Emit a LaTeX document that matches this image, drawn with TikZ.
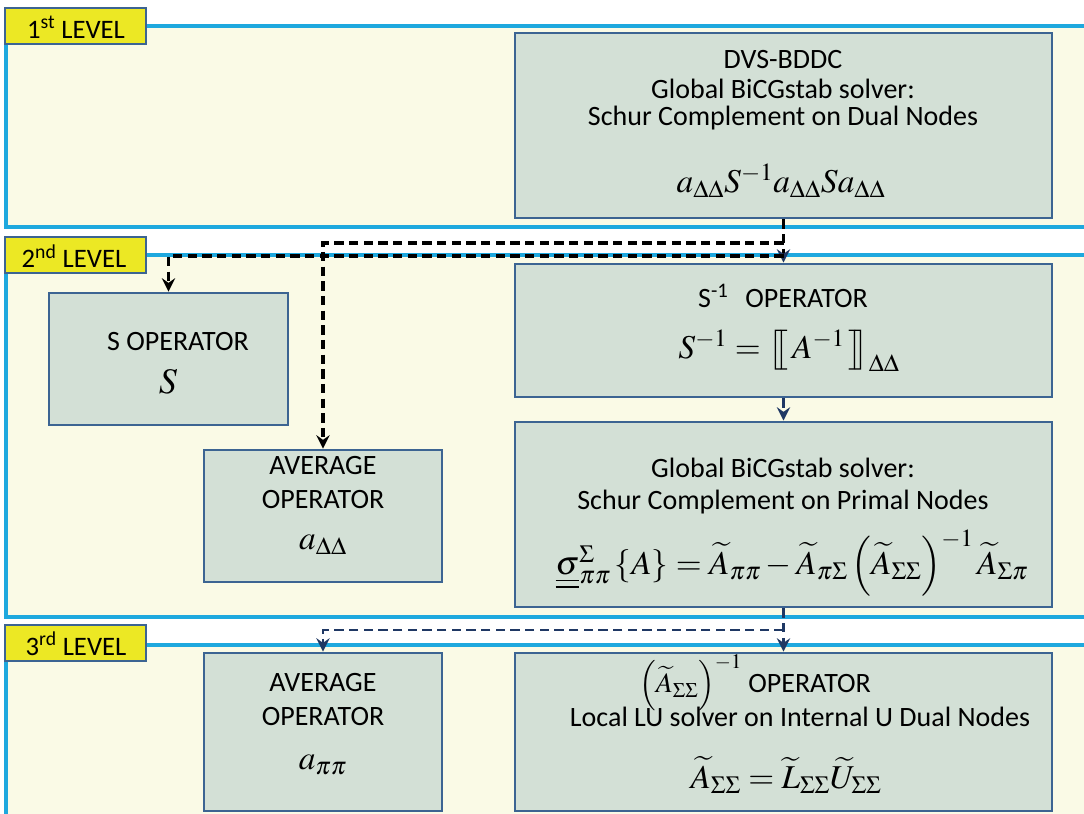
\documentclass[tikz,border=0pt]{standalone}
\usepackage{mathptmx}
\usepackage[no-math]{fontspec}
\setmainfont{Carlito}
\usetikzlibrary{arrows.meta,fit}
\definecolor{cream}{RGB}{250,250,230}
\definecolor{panelblue}{RGB}{30,168,222}
\definecolor{boxfill}{RGB}{211,224,214}
\definecolor{boxline}{RGB}{60,100,146}
\definecolor{labelyellow}{RGB}{236,232,36}
\definecolor{navy}{RGB}{31,56,100}
\tikzset{
  opbox/.style={draw=boxline, fill=boxfill, line width=2.2pt, inner sep=0pt, rectangle},
  lvl/.style={draw=boxline, fill=labelyellow, line width=2.2pt, inner sep=0pt, rectangle},
  lvltxt/.style={font=\fontsize{20}{22}\selectfont, inner sep=0pt},
  txt/.style={font=\fontsize{21}{24}\selectfont, inner sep=0pt},
  mth/.style={inner sep=0pt},
  panelline/.style={panelblue, line width=2.3pt},
  dashblk/.style={black, line width=2.5pt, dash pattern=on 7pt off 4pt},
  dashnavy/.style={navy, line width=2.2pt, dash pattern=on 7pt off 4pt},
  navytip/.style={-{Stealth[color=navy, length=10pt, width=10pt, inset=3.5pt]}},
  blacktip/.style={-{Stealth[color=black, length=10pt, width=10pt, inset=3.5pt]}}
}
\begin{document}
\begin{tikzpicture}[x=0.75pt, y=-0.75pt]
\useasboundingbox (0,0) rectangle (1084,813);
\clip (0,0) rectangle (1084,813);
\fill[white] (0,0) rectangle (1084,813);
% panels
\fill[cream] (6,26) rectangle (1100,227);
\draw[panelline] (1100,26) -- (6,26) -- (6,227) -- (1100,227);
\fill[cream] (6,255) rectangle (1100,617);
\draw[panelline] (1100,255) -- (6,255) -- (6,617) -- (1100,617);
\fill[cream] (6,645) rectangle (1100,840);
\draw[panelline] (1100,645) -- (6,645) -- (6,840);
% boxes
\node[opbox, fit={(515,33) (1052,218)}] (dvs) {};
\node[opbox, fit={(49,293) (288,425)}] (sop) {};
\node[opbox, fit={(204,450) (442,582)}] (avgD) {};
\node[opbox, fit={(515,264) (1052,397)}] (sinv) {};
\node[opbox, fit={(515,422) (1052,607)}] (prim) {};
\node[opbox, fit={(204,653) (442,811)}] (avgP) {};
\node[opbox, fit={(515,653) (1052,811)}] (atil) {};
% level labels
\node[lvl, fit={(5,8) (146,44)}] (l1) {};
\node[lvltxt] (l1t) at (76,27) {1\textsuperscript{st} LEVEL};
\node[lvl, fit={(5,237) (146,273)}] (l2) {};
\node[lvltxt] (l2t) at (74,256) {2\textsuperscript{nd} LEVEL};
\node[lvl, fit={(5,625) (146,661)}] (l3) {};
\node[lvltxt] (l3t) at (76,644) {3\textsuperscript{rd} LEVEL};
% texts level 1
\node[txt] (t1a) at (783,60) {DVS-BDDC};
\node[txt] (t1b) at (783,89) {Global BiCGstab solver:};
\node[txt] (t1c) at (783,118) {Schur Complement on Dual Nodes};
\node[mth, font=\fontsize{25}{28}\selectfont] (f1) at (781,181) {$a_{\Delta\Delta}S^{-1}a_{\Delta\Delta}Sa_{\Delta\Delta}$};
% texts level 2
\node[txt] (t2a) at (178,342) {S OPERATOR};
\node[mth, font=\fontsize{27}{30}\selectfont] (f2a) at (168,382) {$S$};
\node[txt] (t2b) at (323,466) {AVERAGE};
\node[txt] (t2c) at (323,500) {OPERATOR};
\node[mth, font=\fontsize{25}{28}\selectfont] (f2b) at (323,545) {$a_{\Delta\Delta}$};
\node[txt] (t2d) at (783,296) {S\textsuperscript{-1}\hspace{0.6em}OPERATOR};
\node[mth, font=\fontsize{25}{28}\selectfont] (f2c) at (789,351) {$S^{-1}=\left[\!\!\left[\,A^{-1}\,\right]\!\!\right]_{\Delta\Delta}$};
\node[txt] (t2e) at (783,468) {Global BiCGstab solver:};
\node[txt] (t2f) at (783,502) {Schur Complement on Primal Nodes};
\node[mth, font=\fontsize{25}{28}\selectfont] (f2d) at (792,563) {$\underline{\underline{\sigma}}{}_{\pi\pi}^{\Sigma}\left\{A\right\}=\widetilde{A}_{\pi\pi}-\widetilde{A}_{\pi\Sigma}\left(\widetilde{A}_{\Sigma\Sigma}\right)^{-1}\widetilde{A}_{\Sigma\pi}$};
% texts level 3
\node[txt] (t3a) at (323,683) {AVERAGE};
\node[txt] (t3b) at (323,717) {OPERATOR};
\node[mth, font=\fontsize{25}{28}\selectfont] (f3a) at (323,765) {$a_{\pi\pi}$};
\node[txt] (t3c) at (755,683) {$\left(\widetilde{A}_{\Sigma\Sigma}\right)^{-1}$ OPERATOR};
\node[txt] (t3d) at (800,717) {Local LU solver on Internal U Dual Nodes};
\node[mth, font=\fontsize{25}{28}\selectfont] (f3b) at (786,775) {$\widetilde{A}_{\Sigma\Sigma}=\widetilde{L}_{\Sigma\Sigma}\widetilde{U}_{\Sigma\Sigma}$};
% connectors
\coordinate (j1) at (dvs.south |- 0,243);
\coordinate (j2) at (dvs.south |- 0,256);
\coordinate (j3) at (prim.south |- 0,630);
\draw[dashblk, navytip] (dvs.south) -- (sinv.north);
\draw[dashblk, blacktip] (j1) -| (avgD.north);
\draw[dashblk, blacktip] (j2) -| (sop.north);
\draw[dashnavy, navytip] (sinv.south) -- (prim.north);
\draw[dashnavy, navytip] (prim.south) -- (atil.north);
\draw[dashnavy, navytip] (j3) -| (avgP.north);
\end{tikzpicture}
\end{document}
